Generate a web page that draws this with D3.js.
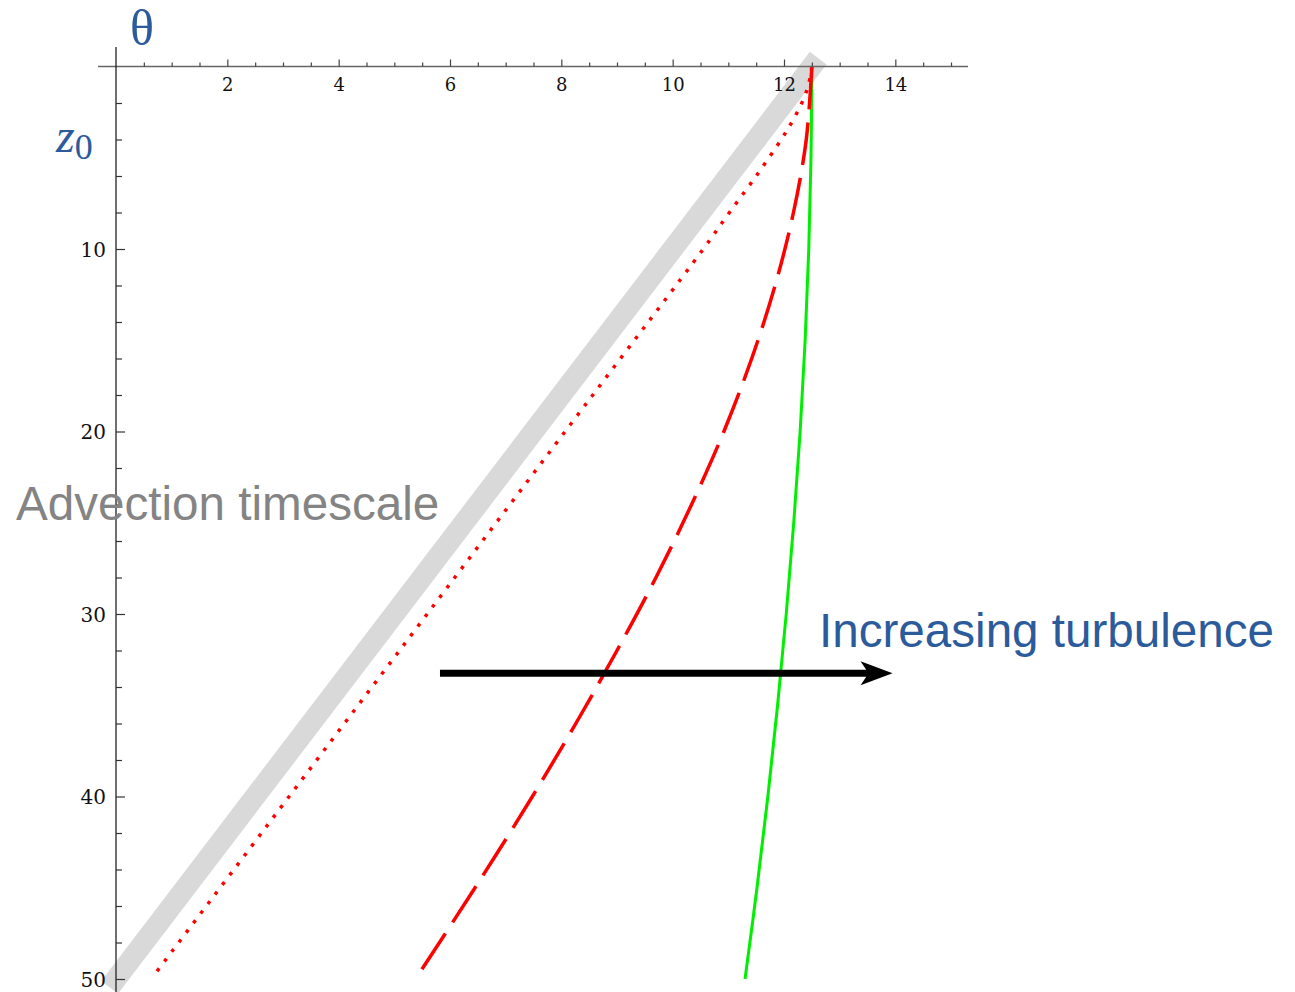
<!DOCTYPE html>
<html><head><meta charset="utf-8">
<script src="https://cdn.jsdelivr.net/npm/d3@7"></script>
<style>body{margin:0;background:#fff;}svg{display:block;}</style>
</head><body>
<script>
// Data
const advZ = [0, 50];
const advTheta = [12.5, 0];
const dottedZ = [0, 1, 2, 3, 4, 6, 8, 10, 18.3, 30, 40, 49.6];
const dottedTheta = [12.5, 12.44, 12.32, 12.15, 11.95, 11.5, 11.02, 10.55, 8.49, 5.59, 3.11, 0.73];
const dashedZ = [0, 4, 8, 12, 16, 20, 24, 28, 32, 36, 40, 45, 50];
const dashedTheta = [12.5, 12.4, 12.17, 11.84, 11.42, 10.92, 10.34, 9.70, 9.0, 8.26, 7.48, 6.45, 5.38];
const greenZ = [0, 5, 10, 15, 20, 25, 30, 35, 40, 45, 50];
const greenTheta = [12.5, 12.485, 12.445, 12.38, 12.29, 12.175, 12.04, 11.885, 11.71, 11.515, 11.3];
const xMajorTicks = [2, 4, 6, 8, 10, 12, 14];
const yMajorTicks = [10, 20, 30, 40, 50];
const arrowZ = 33.25, arrowFrom = 5.82, arrowTo = 13.95;

const W = 1295, H = 992;
const svg = d3.select("body").append("svg").attr("width", W).attr("height", H);
const x = d3.scaleLinear().domain([0, 15]).range([116, 951]);
const y = d3.scaleLinear().domain([0, 50]).range([66.5, 979]);

const line = d3.line().x(d => x(d[0])).y(d => y(d[1])).curve(d3.curveCatmullRom.alpha(0.5));
const zip = (t, z) => t.map((v, i) => [v, z[i]]);

// advection band
svg.append("path").datum(zip(advTheta, advZ)).attr("d", d3.line().x(d => x(d[0])).y(d => y(d[1])))
  .attr("stroke", "#d9d9d9").attr("stroke-width", 21).attr("stroke-linecap", "square").attr("fill", "none");

svg.append("path").datum(zip(greenTheta, greenZ)).attr("d", line)
  .attr("stroke", "#00ee00").attr("stroke-width", 3).attr("fill", "none");
svg.append("path").datum(zip(dottedTheta, dottedZ)).attr("d", line)
  .attr("stroke", "#ff0000").attr("stroke-width", 3.5).attr("stroke-dasharray", "3.5,8.5").attr("fill", "none");
svg.append("path").datum(zip(dashedTheta, dashedZ)).attr("d", line)
  .attr("stroke", "#ff0000").attr("stroke-width", 3.5).attr("stroke-dasharray", "43,13").attr("fill", "none");

// axes lines
svg.append("line").attr("x1", 98).attr("x2", 968).attr("y1", y(0)).attr("y2", y(0))
  .attr("stroke", "#666").attr("stroke-width", 1.4);
svg.append("line").attr("x1", x(0)).attr("x2", x(0)).attr("y1", 47).attr("y2", 992)
  .attr("stroke", "#222").attr("stroke-width", 1.3);

// x ticks
const xMinor = d3.range(0.5, 15.01, 0.5).filter(v => !xMajorTicks.includes(v));
const gx = svg.append("g").attr("transform", `translate(0,${y(0)})`);
gx.call(d3.axisTop(x).tickValues(xMinor).tickSize(4).tickFormat(""));
gx.call(g => g.select(".domain").remove());
const gx2 = svg.append("g").attr("transform", `translate(0,${y(0)})`);
gx2.call(d3.axisTop(x).tickValues(xMajorTicks).tickSize(7).tickFormat(d3.format("d")));
gx2.call(g => g.select(".domain").remove());
gx2.selectAll("text").attr("y", 24).attr("dy", 0)
  .attr("font-family", "DejaVu Serif").attr("font-size", 18).attr("fill", "#111");
gx.selectAll("line").attr("stroke", "#444").attr("stroke-width", 1.2);
gx2.selectAll("line").attr("stroke", "#444").attr("stroke-width", 1.2);

// y ticks
const yMinor = d3.range(2, 50.01, 2).filter(v => !yMajorTicks.includes(v));
const gy = svg.append("g").attr("transform", `translate(${x(0)},0)`);
gy.call(d3.axisRight(y).tickValues(yMinor).tickSize(6).tickFormat(""));
gy.call(g => g.select(".domain").remove());
const gy2 = svg.append("g").attr("transform", `translate(${x(0)},0)`);
gy2.call(d3.axisRight(y).tickValues(yMajorTicks).tickSize(9).tickFormat(d3.format("d")));
gy2.call(g => g.select(".domain").remove());
gy2.selectAll("text").attr("x", -10).attr("dy", "0.35em").attr("text-anchor", "end")
  .attr("font-family", "DejaVu Serif").attr("font-size", 20).attr("fill", "#111");
gy.selectAll("line").attr("stroke", "#333").attr("stroke-width", 1.2);
gy2.selectAll("line").attr("stroke", "#333").attr("stroke-width", 1.2);

// arrow
const ay = y(arrowZ);
svg.append("line").attr("x1", x(arrowFrom)).attr("x2", x(arrowTo) - 20).attr("y1", ay).attr("y2", ay)
  .attr("stroke", "#000").attr("stroke-width", 7);
const tx = x(arrowTo);
svg.append("path").attr("d", `M${tx},${ay} L${tx - 32},${ay - 12} L${tx - 24},${ay} L${tx - 32},${ay + 12} Z`).attr("fill", "#000");

// labels
const blue = "#2b5b9b";
svg.append("text").attr("x", 130).attr("y", 45).attr("font-family", "Liberation Serif").attr("font-size", 50)
  .attr("fill", blue).text("θ");
const zl = svg.append("text").attr("x", 56).attr("y", 152).attr("font-family", "Liberation Serif").attr("fill", blue);
zl.append("tspan").attr("font-size", 48).attr("font-style", "italic").text("z");
zl.append("tspan").attr("font-size", 36).attr("dy", 7).text("0");

svg.append("text").attr("x", 16).attr("y", 520).attr("font-family", "Liberation Sans").attr("font-size", 47.6)
  .attr("fill", "#848484").text("Advection timescale");
svg.append("text").attr("x", 819).attr("y", 647).attr("font-family", "Liberation Sans").attr("font-size", 47.6)
  .attr("fill", blue).text("Increasing turbulence");
</script>
</body></html>
